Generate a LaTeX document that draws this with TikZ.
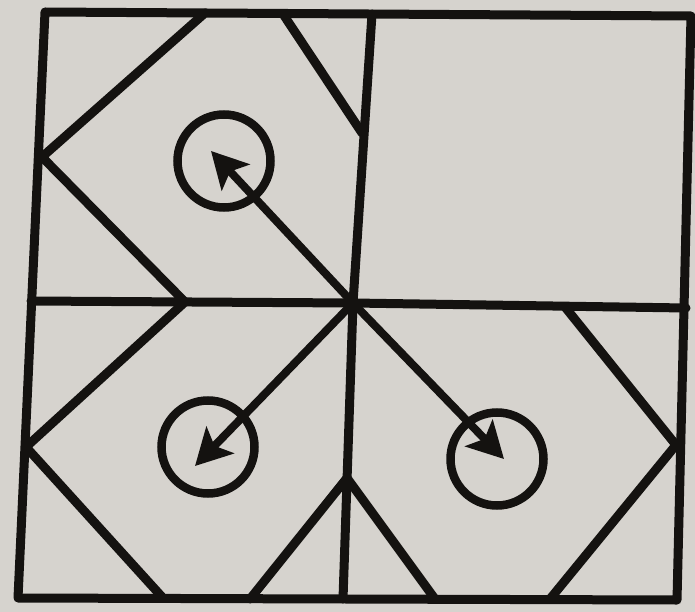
\documentclass[tikz,border=0pt]{standalone}
\usetikzlibrary{positioning,arrows.meta}
\definecolor{paper}{HTML}{D6D3CE}
\definecolor{ink}{HTML}{141210}
\tikzset{
edge/.style={
  draw=ink,
  line width=9pt,
  line cap=round,
  line join=round
  },
ring/.style={
  circle,
  draw=ink,
  line width=8.5pt,
  minimum size=93pt,
  inner sep=0pt
  },
pointer/.style={
  ink,
  line width=8pt,
  ->
  }
}

\begin{document}
\begin{tikzpicture}[>={Stealth[length=36pt,width=38pt,inset=8pt]},x=1pt,y=-1pt]
\fill[paper] (0,0) rectangle (695,612);
\useasboundingbox (0,0) rectangle (695,612);

\coordinate (TL) at (45,12);
\coordinate (TR) at (691,16);
\coordinate (BR) at (677,600);
\coordinate (BL) at (18,598);
\coordinate (ML) at (31,301);
\coordinate (MR) at (686,308);
\coordinate (MT) at (372,14);
\coordinate (MB) at (343,599);
\coordinate (O) at (353,303);

\coordinate (a) at (205,13);
\coordinate (b) at (283,14);
\coordinate (c) at (362,133);
\coordinate (d) at (42,157);
\coordinate (e) at (185,302);
\coordinate (g) at (26,447);
\coordinate (h) at (163,598);
\coordinate (i) at (250,599);
\coordinate (j) at (347,478);
\coordinate (k) at (435,599);
\coordinate (l) at (550,599);
\coordinate (m) at (676,445);
\coordinate (n) at (565,307);

\node[ring] (c1) at (224,161) {};
\node[ring] (c2) at (208,447) {};
\node[ring] (c3) at (497,459) {};

\coordinate (t1) at (211,151);
\coordinate (t2) at (195,466);
\coordinate (t3) at (504,459);

% frame and cross
\draw[edge] (TL) -- (TR) -- (BR) -- (BL) -- cycle;
\draw[edge] (ML) -- (O) -- (MR);
\draw[edge] (MT) -- (O) -- (MB);

% cut lines
\draw[edge] (a) -- (d) -- (e) -- (g) -- (h);
\draw[edge] (b) -- (c);
\draw[edge] (i) -- (j) -- (k);
\draw[edge] (l) -- (m) -- (n);

\draw[pointer] (O) -- (t1);
\draw[pointer] (O) -- (t2);
\draw[pointer] (O) -- (t3);
\end{tikzpicture}
\end{document}
